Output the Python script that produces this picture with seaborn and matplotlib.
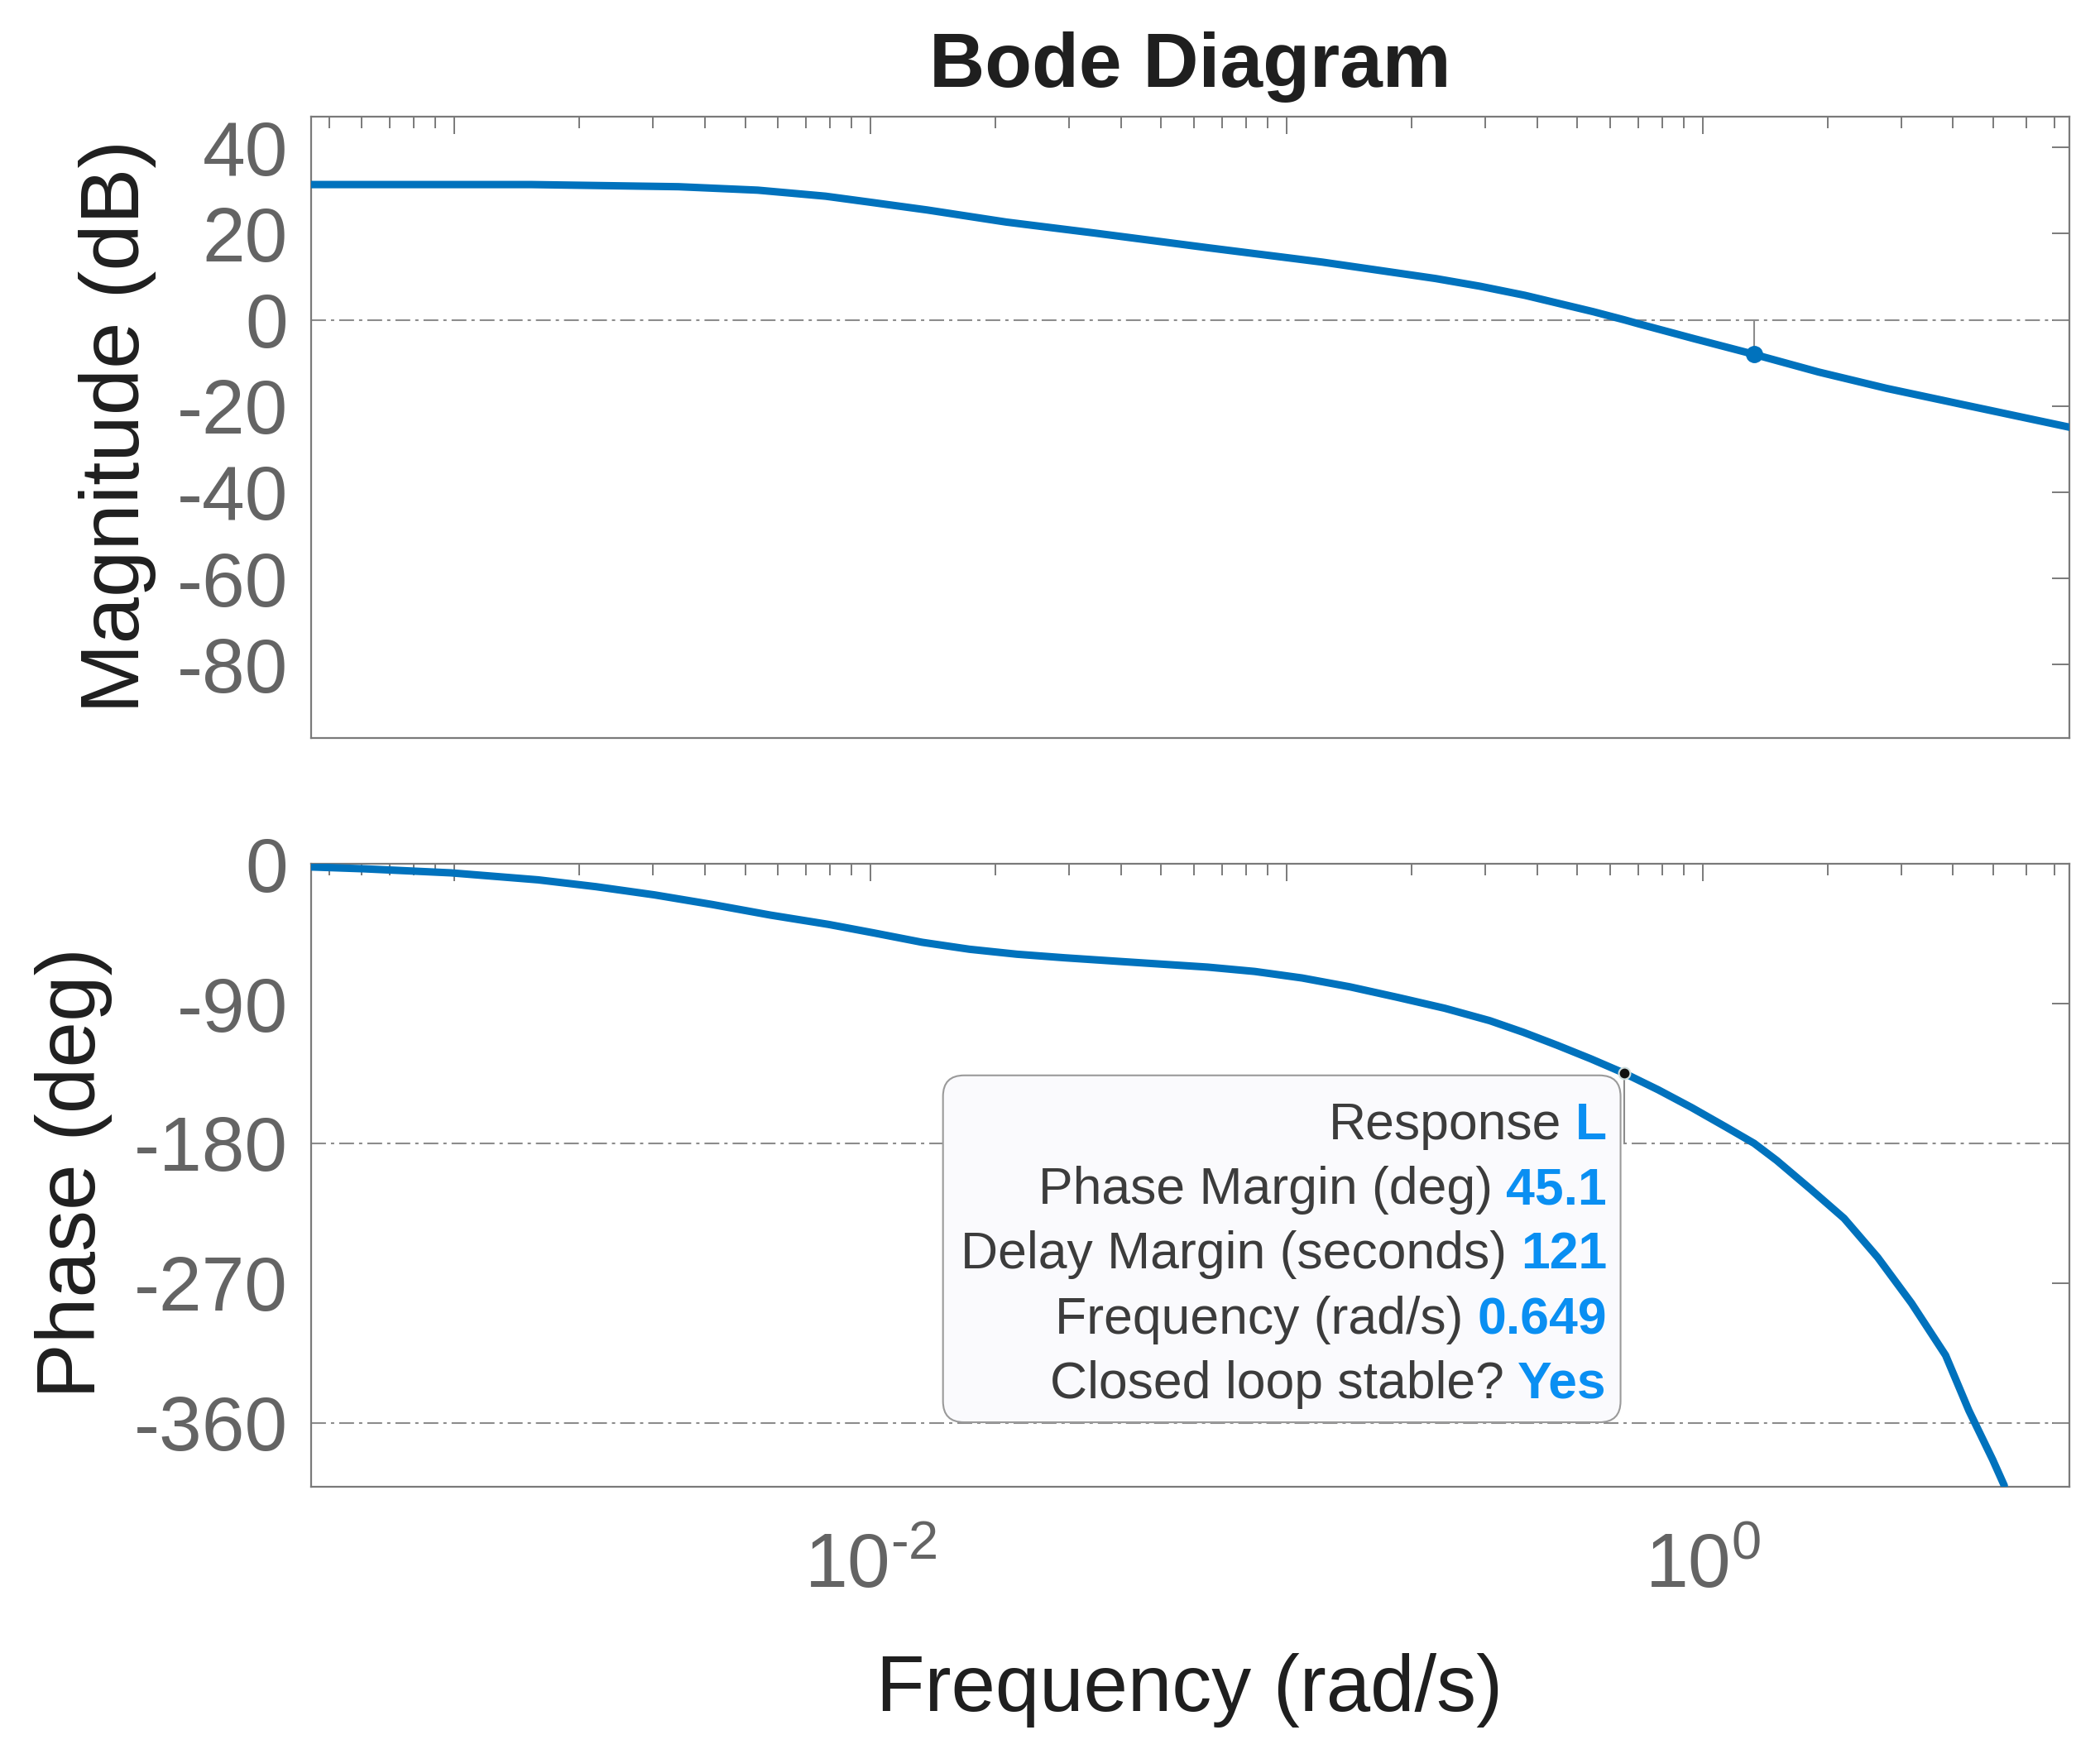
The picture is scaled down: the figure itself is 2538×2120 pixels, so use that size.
import matplotlib
matplotlib.use("Agg")
import matplotlib.pyplot as plt
import matplotlib.ticker as mticker
from matplotlib.patches import FancyBboxPatch
import pandas as pd
import seaborn as sns

# --- data (rad/s, dB, deg) ---
mag_freq = [4.52e-4, 1.53e-3, 3.46e-3, 5.36e-3, 7.80e-3, 1.00e-2, 1.37e-2,
            2.12e-2, 3.49e-2, 6.52e-2, 0.122, 0.228, 0.292, 0.374, 0.452,
            0.546, 0.649, 0.701, 0.957, 1.33, 1.90, 2.77, 4.29, 7.61]
mag_db = [31.4, 31.4, 30.9, 30.1, 28.7, 27.3, 25.5,
          22.7, 20.1, 16.7, 13.4, 9.6, 7.8, 5.7, 3.8,
          1.9, 0.0, -0.9, -4.4, -8.0, -12.1, -15.9, -19.8, -24.9]

phase_freq = [4.52e-4, 6.07e-4, 9.82e-4, 1.59e-3, 2.19e-3, 3.03e-3, 4.17e-3,
              5.75e-3, 7.93e-3, 1.02e-2, 1.33e-2, 1.73e-2, 2.25e-2, 2.93e-2,
              3.95e-2, 6.46e-2, 8.39e-2, 0.109, 0.142, 0.185, 0.240, 0.308,
              0.371, 0.447, 0.538, 0.649, 0.782, 0.942, 1.138, 1.33, 1.507,
              1.816, 2.188, 2.636, 3.177, 3.837, 4.365, 4.977, 5.309]
phase_deg = [-2.0, -3.2, -5.8, -10.3, -14.7, -20.0, -26.2,
             -33.0, -39.0, -44.5, -50.5, -55.0, -58.2, -60.5,
             -62.8, -66.5, -69.3, -73.5, -79.2, -86.0, -93.0, -101.0,
             -108.5, -116.8, -125.5, -134.9, -145.5, -157.0, -169.5, -180.0, -191.0,
             -209.4, -228.3, -253.5, -282.9, -316.5, -352.1, -383.6, -400.4]

# margins
gm_freq, gm_db = 1.33, -8.0
pm_freq, pm_deg = 0.649, -134.9

mag_ticks = [40, 20, 0, -20, -40, -60, -80]
phase_ticks = [0, -90, -180, -270, -360]
freq_major = [1e-3, 1e-2, 1e-1, 1e0]
freq_labels = ["", r"$\mathdefault{10^{\text{-}2}}$", "", r"$\mathdefault{10^{0}}$"]
ref_lines_phase = [-180, -360]

tip_labels = ["Response", "Phase Margin (deg)", "Delay Margin (seconds)",
              "Frequency (rad/s)", "Closed loop stable?"]
tip_values = ["L", "45.1", "121", "0.649", "Yes"]

# --- style ---
sns.set_theme(style="white")
plt.rcParams["font.family"] = ["Liberation Sans", "DejaVu Sans"]
plt.rcParams["mathtext.fontset"] = "custom"
plt.rcParams["mathtext.rm"] = "Liberation Sans"
plt.rcParams["mathtext.it"] = "Liberation Sans:italic"
plt.rcParams["mathtext.bf"] = "Liberation Sans:bold"
plt.rcParams["axes.unicode_minus"] = False

LINE = "#0072BD"
GRAY = "#8c8c8c"
TICK = "#646464"
LABEL = "#1f1f1f"
BLUE_TXT = "#0a8ff2"
dash = (8.6, 2.9, 1.9, 2.9)

fig = plt.figure(figsize=(25.38, 21.2), dpi=100)
ax1 = fig.add_axes([0.148, 0.5793, 0.8374, 0.3543])
ax2 = fig.add_axes([0.148, 0.1525, 0.8374, 0.3550])

df_mag = pd.DataFrame({"freq": mag_freq, "db": mag_db})
df_ph = pd.DataFrame({"freq": phase_freq, "deg": phase_deg})

for ax in (ax1, ax2):
    ax.set_xscale("log")

sns.lineplot(data=df_mag, x="freq", y="db", ax=ax1, color=LINE,
             linewidth=6.5, estimator=None, sort=False, zorder=3)
sns.lineplot(data=df_ph, x="freq", y="deg", ax=ax2, color=LINE,
             linewidth=6.5, estimator=None, sort=False, zorder=3)

# reference lines
ax1.axhline(0, color=GRAY, lw=1.5, dashes=dash, zorder=1)
for v in ref_lines_phase:
    ax2.axhline(v, color=GRAY, lw=1.5, dashes=dash, zorder=1)

# gain margin marker
ax1.plot([gm_freq, gm_freq], [0, gm_db], color=GRAY, lw=1.5, zorder=2)
ax1.plot([gm_freq], [gm_db], marker="o", ms=14, color=LINE, zorder=4)

# phase margin marker
ax2.plot([pm_freq, pm_freq], [-180, pm_deg], color=GRAY, lw=1.5, zorder=2)
ax2.plot([pm_freq], [pm_deg], marker="o", ms=10, mfc="#111111",
         mec="#d0dede", mew=1.5, zorder=6)

# axes limits / ticks
for ax in (ax1, ax2):
    ax.set_xlim(4.52e-4, 7.61)
    ax.xaxis.set_major_locator(mticker.FixedLocator(freq_major))
    ax.xaxis.set_minor_locator(mticker.LogLocator(base=10, subs=range(2, 10), numticks=20))
    ax.xaxis.set_minor_formatter(mticker.NullFormatter())
    ax.tick_params(which="both", direction="in", top=True, right=True,
                   color="#7a7a7a", width=1.4, labelcolor=TICK)
    ax.tick_params(which="major", length=15, labelsize=67, pad=20)
    ax.tick_params(which="minor", length=10)
    ax.tick_params(axis="x", which="major", pad=40)
    for s in ax.spines.values():
        s.set_color("#7a7a7a")
        s.set_linewidth(1.6)
    ax.set_xlabel("")
    ax.set_ylabel("")

ax1.set_ylim(-97.0, 47.2)
ax1.set_yticks(mag_ticks)
ax1.xaxis.set_major_formatter(mticker.NullFormatter())

ax2.set_ylim(-401, 0)
ax2.set_yticks(phase_ticks)
ax2.xaxis.set_major_formatter(mticker.FixedFormatter(freq_labels))

# datatip box
box = FancyBboxPatch((0.3595, 0.1032), 0.7448 - 0.3595, 0.6603 - 0.1032,
                     boxstyle="round,pad=0,rounding_size=0.012",
                     mutation_aspect=2125 / 753,
                     transform=ax2.transAxes, facecolor="#fafafd",
                     edgecolor="#9a9a9a", lw=1.5, zorder=5)
ax2.add_patch(box)
tip_y = [0.5871, 0.4839, 0.3809, 0.2753, 0.1723]
for lab, val, ty in zip(tip_labels, tip_values, tip_y):
    vt = ax2.text(0.737, ty - 0.03, val, transform=ax2.transAxes, ha="right",
                  va="baseline", fontsize=45, fontweight="bold",
                  color=BLUE_TXT, zorder=7)
    ax2.annotate(lab, xy=(0, ty - 0.03), xycoords=(vt, "axes fraction"),
                 xytext=(-12, 0), textcoords="offset points",
                 ha="right", va="baseline", fontsize=45, color="#3c3c3c",
                 zorder=7)

# titles and labels
fig.text(0.5666, 0.9506, "Bode Diagram", ha="center", va="baseline",
         fontsize=67, fontweight="bold", color=LABEL)
fig.text(0.5666, 0.0245, "Frequency (rad/s)", ha="center", va="baseline",
         fontsize=69, color=LABEL)
fig.text(0.0561, 0.7568, "Magnitude (dB)", ha="center", va="center",
         rotation=90, fontsize=73, color=LABEL)
fig.text(0.0351, 0.3316, "Phase (deg)", ha="center", va="center",
         rotation=90, fontsize=72, color=LABEL)

fig.savefig("out.png", dpi=100, facecolor="white")
plt.close(fig)
